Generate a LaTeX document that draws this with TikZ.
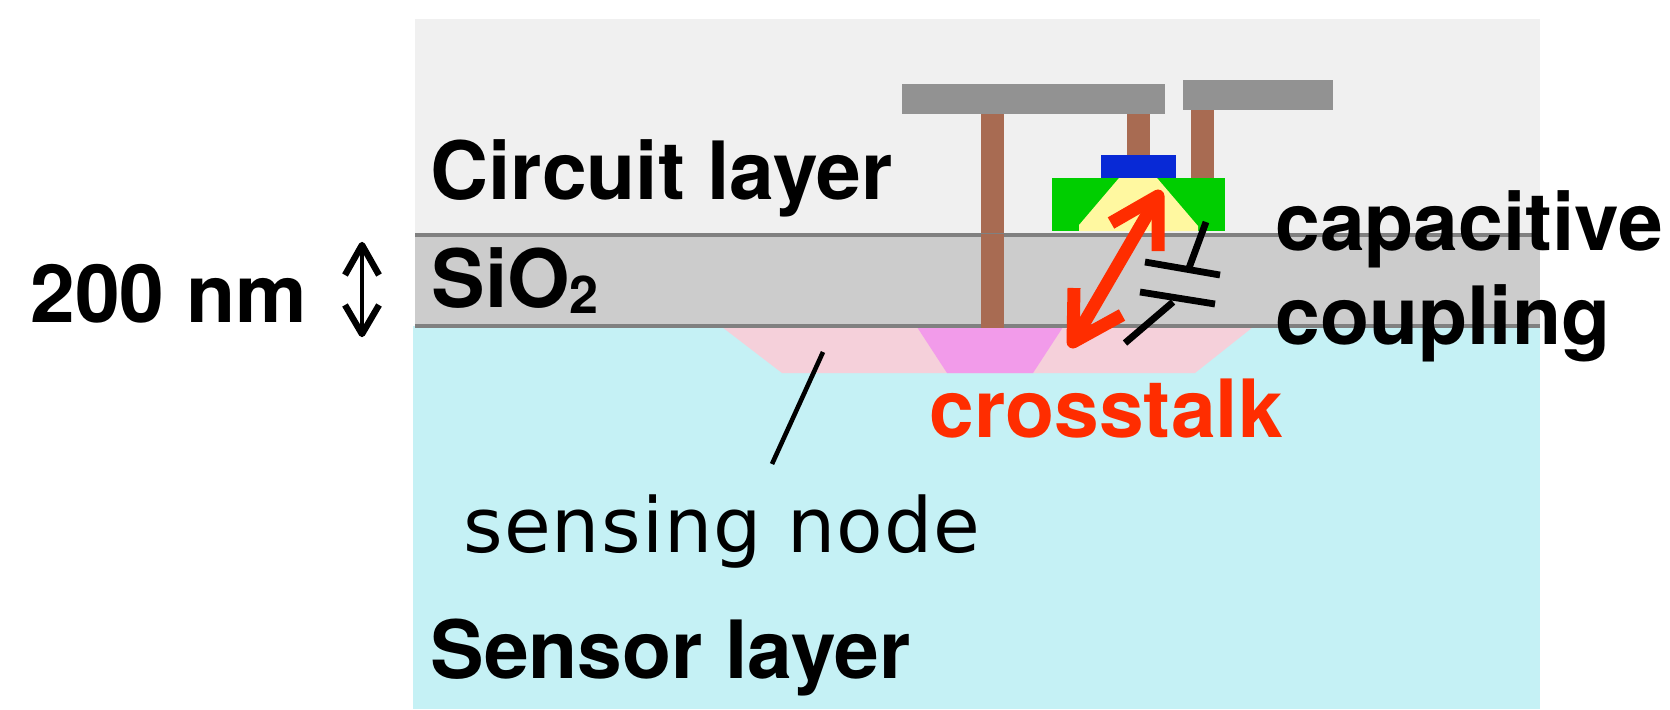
\documentclass[tikz,border=0pt]{standalone}
\usepackage{fontspec}
\setmainfont{TeX Gyre Heros}
\newfontfamily\lightsans[LetterSpace=1.5]{DejaVu Sans}
\definecolor{circuitbg}{HTML}{F0F0F0}
\definecolor{oxidebg}{HTML}{CCCCCC}
\definecolor{sensorbg}{HTML}{C5F1F5}
\definecolor{pinkarea}{HTML}{F5D0DA}
\definecolor{magentaarea}{HTML}{F29BEA}
\definecolor{metalgray}{HTML}{929292}
\definecolor{viabrown}{HTML}{A86B52}
\definecolor{gateblue}{HTML}{0829D6}
\definecolor{diffgreen}{HTML}{00CE00}
\definecolor{channelyellow}{HTML}{FFF8A0}
\definecolor{bandline}{HTML}{808080}
\definecolor{alertred}{HTML}{FF2D00}
\tikzset{
  labeltext/.style={anchor=base west,inner sep=0pt,font=\bfseries\fontsize{40.2}{48}\selectfont},
  redarrow/.style={draw=alertred,line width=6.5pt,line join=round},
  capline/.style={draw=black,line width=3.4pt},
  thinblack/.style={draw=black,line width=2.3pt},
  thickbarb/.style={draw=black,line width=3.2pt,line join=round},
  bandsep/.style={draw=bandline,line width=2pt}
}
\begin{document}
\begin{tikzpicture}[x=0.5pt,y=-0.5pt]
\useasboundingbox (0,0) rectangle (1670,709);
% layers
\fill[circuitbg] (415,19) rectangle (1540,235);
\fill[oxidebg] (415,235) rectangle (1540,326);
\fill[sensorbg] (413,326) rectangle (1540,709);
\fill[pinkarea] (722,327) -- (782,373) -- (1195,373) -- (1253,327) -- cycle;
\fill[magentaarea] (917,327) -- (947,373) -- (1033,373) -- (1063,327) -- cycle;
% vias and metal
\fill[viabrown] (981,114) rectangle (1004,328);
\fill[viabrown] (1127,114) rectangle (1150,155);
\fill[viabrown] (1191,110) rectangle (1214,178);
\fill[metalgray] (902,84) rectangle (1165,114);
\fill[metalgray] (1183,80) rectangle (1333,110);
% transistor
\fill[diffgreen] (1052,178) rectangle (1225,231);
\fill[channelyellow] (1119,178) -- (1157,178) -- (1198,226) -- (1198,231) -- (1079,231) -- (1079,225) -- cycle;
\fill[gateblue] (1101,155) rectangle (1176,178);
% separators
\coordinate (sepAL) at (415,234.5); \coordinate (sepAR) at (1540,234.5);
\coordinate (sepBL) at (415,326); \coordinate (sepBR) at (1540,326);
\draw[bandsep] (sepAL) -- (sepAR);
\draw[bandsep] (sepBL) -- (sepBR);
\fill[viabrown] (981,234) rectangle (1004,328);
% labels
\node[labeltext] (circuit) at (430,199) {Circuit layer};
\node[labeltext] (oxide) at (431,307) {SiO\raisebox{-3pt}{\fontsize{26}{30}\selectfont 2}};
\node[labeltext] (thick) at (30,322) {200 nm};
\node[labeltext] (cap1) at (1275,250) {capacitive};
\node[labeltext] (cap2) at (1275,344) {coupling};
\node[labeltext,text=alertred] (cross) at (929,437) {crosstalk};
\node[labeltext] (sensor) at (430,678) {Sensor layer};
\node[anchor=base west,inner sep=0pt,font=\lightsans\fontsize{38}{42}\selectfont] (sense) at (463,552) {sensing node};
% thickness arrow
\coordinate (tTop) at (362,245); \coordinate (tBot) at (362,334);
\coordinate (tA) at (345,275); \coordinate (tB) at (379,275);
\coordinate (tC) at (345,305); \coordinate (tD) at (379,305);
\draw[thinblack] (tTop) -- (tBot);
\draw[thickbarb] (tA) -- (tTop) -- (tB);
\draw[thickbarb] (tC) -- (tBot) -- (tD);
% sensing node leader
\coordinate (leadA) at (823,352); \coordinate (leadB) at (772,464);
\draw[thinblack] (leadA) -- (leadB);
% crosstalk arrow
\coordinate (rTop) at (1158,196); \coordinate (rBot) at (1073,342);
\coordinate (rA) at (1111,223); \coordinate (rB) at (1158,251);
\coordinate (rC) at (1074,288); \coordinate (rD) at (1122,315);
\draw[redarrow] (rTop) -- (rBot);
\draw[redarrow] (rA) -- (rTop) -- (rB);
\draw[redarrow] (rC) -- (rBot) -- (rD);
% capacitor
\coordinate (p1a) at (1145,262); \coordinate (p1b) at (1220,275);
\coordinate (p2a) at (1140,292); \coordinate (p2b) at (1215,304);
\coordinate (l1a) at (1206,222); \coordinate (l1b) at (1189,268);
\coordinate (l2a) at (1173,302); \coordinate (l2b) at (1125,343);
\draw[capline] (p1a) -- (p1b);
\draw[capline] (p2a) -- (p2b);
\draw[capline] (l1a) -- (l1b);
\draw[capline] (l2a) -- (l2b);
\end{tikzpicture}
\end{document}
